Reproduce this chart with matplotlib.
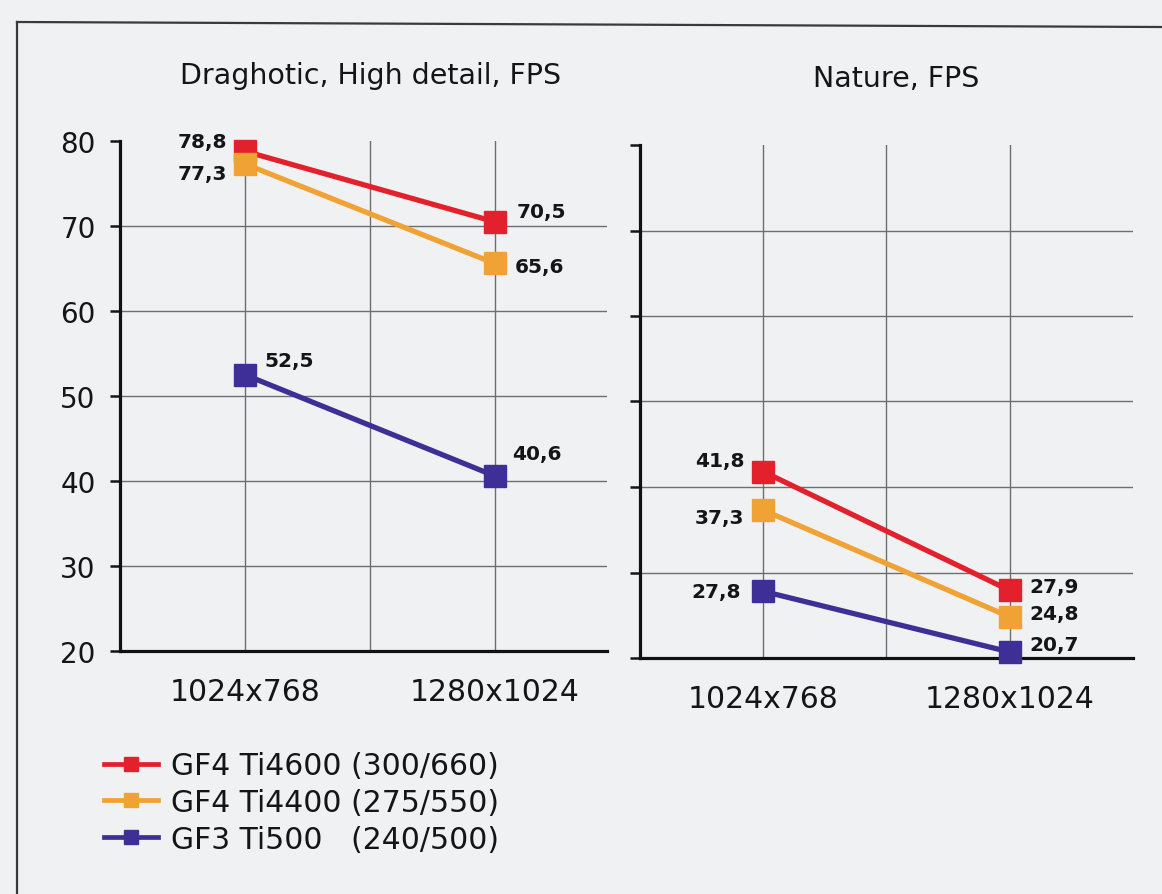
import matplotlib.pyplot as plt
from matplotlib.lines import Line2D

#### DATA ##########

resolutions = ['1024x768', '1280x1024']
cards = ['GF4 Ti4600 (300/660)', 'GF4 Ti4400 (275/550)', 'GF3 Ti500   (240/500)']
colors = ['#e2212c', '#f1a234', '#3d2f95']

# rows follow cards, columns follow resolutions
draghotic_fps = [[78.8, 70.5],
                 [77.3, 65.6],
                 [52.5, 40.6]]
nature_fps = [[41.8, 27.9],
              [37.3, 24.8],
              [27.8, 20.7]]

draghotic_title = 'Draghotic, High detail, FPS'
nature_title = 'Nature, FPS'
yticks = [20, 30, 40, 50, 60, 70, 80]

#### STYLE ##########

bg = '#f0f1f3'
grid_col = '#6e6e6e'
txt_col = '#151515'

# value label offsets in pixels: (dx, dy, ha)
draghotic_offsets = [[(-18, 10, 'right'), (22, 10, 'left')],
                     [(-18, -10, 'right'), (20, -3, 'left')],
                     [(20, 14, 'left'), (18, 22, 'left')]]
nature_offsets = [[(-19, 11, 'right'), (20, 4, 'left')],
                  [(-19, -7, 'right'), (20, 3, 'left')],
                  [(-22, 0, 'right'), (20, 8, 'left')]]

plt.rcParams['font.family'] = 'DejaVu Sans'

W, H = 1162, 895
fig = plt.figure(figsize=(W / 100, H / 100), dpi=100, facecolor=bg)


def px_box(x0, y0, x1, y1):
    # pixel box (top-left origin) -> figure fraction
    return [x0 / W, 1 - y1 / H, (x1 - x0) / W, (y1 - y0) / H]


def mk_panel(ax, data, offsets, title, title_x, xmax, show_labels):
    ax.set_facecolor('none')
    xs = list(range(len(resolutions)))
    for vals, col, offs in zip(data, colors, offsets):
        ax.plot(xs, vals, color=col, lw=3.8, marker='s', markersize=16.5,
                solid_capstyle='butt', zorder=4, clip_on=False)
        for x, v, (dx, dy, ha) in zip(xs, vals, offs):
            ax.annotate(('%.1f' % v).replace('.', ','), (x, v),
                        xytext=(dx, dy), textcoords='offset pixels',
                        ha=ha, va='center', fontsize=14.5, fontweight='bold',
                        color=txt_col, zorder=5)

    ax.set_xlim(-0.5, xmax)
    ax.set_ylim(20, 80)
    ax.set_yticks(yticks)
    ax.set_xticks(xs)
    ax.set_xticklabels(resolutions)
    ax.set_xticks([0.5], minor=True)

    ax.grid(True, which='both', axis='x', color=grid_col, lw=1.0)
    ax.grid(True, axis='y', color=grid_col, lw=1.0)
    ax.yaxis.get_gridlines()[-1].set_visible(False)
    ax.set_axisbelow(True)

    for s in ['top', 'right']:
        ax.spines[s].set_visible(False)
    for s in ['left', 'bottom']:
        ax.spines[s].set_linewidth(2.3)
        ax.spines[s].set_color('#111111')

    ax.tick_params(axis='x', which='both', length=0, pad=19, labelsize=21.5, colors=txt_col)
    ax.tick_params(axis='y', length=7.5, width=1.8, pad=10, labelsize=20,
                   colors=txt_col, labelleft=show_labels)

    ax.text(title_x, 1.13, title, transform=ax.transAxes, ha='center', va='center',
            fontsize=20.5, color=txt_col)


ax1 = fig.add_axes(px_box(120, 142, 607, 652))
ax2 = fig.add_axes(px_box(640, 146, 1133, 659))

mk_panel(ax1, draghotic_fps, draghotic_offsets, draghotic_title, 0.515, 1.45, True)
mk_panel(ax2, nature_fps, nature_offsets, nature_title, 0.52, 1.5, False)

# legend
handles = [Line2D([], [], color=c, lw=3.4, marker='s', markersize=10) for c in colors]
fig.legend(handles, cards, loc='upper left', bbox_to_anchor=(104 / W, 1 - 752 / H),
           frameon=False, fontsize=21.5, handlelength=1.8, handletextpad=0.45,
           labelspacing=0.26, borderpad=0, borderaxespad=0, labelcolor=txt_col)

# outer frame of the scanned figure
fig.add_artist(Line2D([17 / W, 17 / W], [0, 1 - 23 / H], color='#3a3a3a', lw=1.6))
fig.add_artist(Line2D([17 / W, 1], [1 - 23 / H, 1 - 28 / H], color='#3a3a3a', lw=1.6))

plt.savefig('out.png', dpi=100, facecolor=bg)
